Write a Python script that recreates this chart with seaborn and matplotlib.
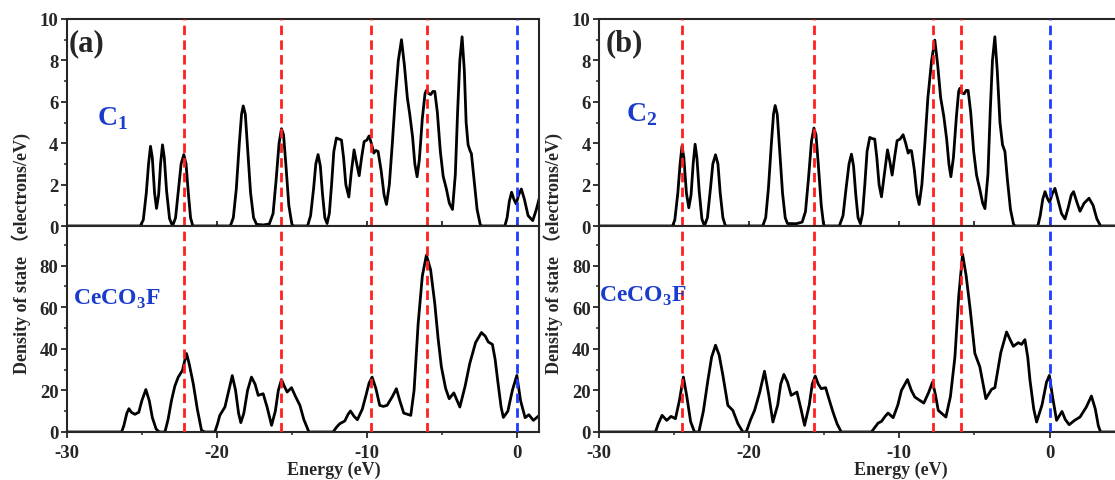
import matplotlib
matplotlib.use('Agg')
import matplotlib.pyplot as plt
import seaborn as sns
from matplotlib.ticker import MultipleLocator

# DOS curves: (energy eV, DOS)
c1_dos = [(-30, 0), (-25.1, 0), (-24.9, 0.3), (-24.7, 1.6), (-24.55, 3.0), (-24.42, 3.85), (-24.3, 3.3),
          (-24.15, 1.6), (-24.02, 0.85), (-23.88, 1.5), (-23.75, 3.0), (-23.62, 3.92), (-23.5, 3.3),
          (-23.35, 1.7), (-23.15, 0.35), (-22.95, 0), (-22.75, 0.4), (-22.55, 1.8), (-22.38, 3.0),
          (-22.2, 3.45), (-22.05, 3.0), (-21.9, 1.6), (-21.75, 0.4), (-21.6, 0), (-19.1, 0), (-18.9, 0.4),
          (-18.7, 1.8), (-18.5, 4.0), (-18.35, 5.4), (-18.24, 5.8), (-18.1, 5.4), (-17.95, 3.8),
          (-17.75, 1.6), (-17.55, 0.4), (-17.35, 0.08), (-16.9, 0.05), (-16.5, 0.1), (-16.25, 0.6),
          (-16.05, 2.2), (-15.85, 4.0), (-15.69, 4.7), (-15.55, 4.4), (-15.4, 3.0), (-15.2, 1.0),
          (-15.0, 0.1), (-14.9, 0), (-13.95, 0), (-13.75, 0.5), (-13.55, 1.8), (-13.4, 3.0), (-13.25, 3.45),
          (-13.1, 2.9), (-12.95, 1.5), (-12.8, 0.4), (-12.65, 0.12), (-12.5, 0.6), (-12.35, 2.0),
          (-12.2, 3.6), (-12.03, 4.25), (-11.85, 4.2), (-11.69, 4.15), (-11.55, 3.3), (-11.4, 2.0),
          (-11.2, 1.4), (-11.05, 2.5), (-10.85, 3.68), (-10.7, 3.1), (-10.51, 2.43), (-10.35, 3.3),
          (-10.18, 4.08), (-10.0, 4.15), (-9.85, 4.35), (-9.7, 4.0), (-9.54, 3.52), (-9.4, 3.65),
          (-9.25, 3.6), (-9.05, 2.7), (-8.85, 1.5), (-8.69, 1.04), (-8.5, 2.0), (-8.3, 4.0), (-8.1, 6.2),
          (-7.9, 8.0), (-7.69, 9.0), (-7.5, 7.8), (-7.3, 6.2), (-7.14, 5.4), (-6.95, 4.3), (-6.8, 3.0),
          (-6.65, 2.38), (-6.5, 3.2), (-6.3, 5.2), (-6.12, 6.4), (-6.03, 6.55), (-5.88, 6.4), (-5.74, 6.35),
          (-5.6, 6.5), (-5.47, 6.5), (-5.3, 5.5), (-5.1, 3.6), (-4.91, 2.4), (-4.7, 1.8), (-4.5, 1.1),
          (-4.29, 0.8), (-4.1, 2.5), (-3.95, 5.5), (-3.8, 8.0), (-3.65, 9.14), (-3.5, 7.5), (-3.38, 5.0),
          (-3.25, 3.92), (-3.1, 3.6), (-3.03, 3.5), (-2.85, 2.2), (-2.65, 0.8), (-2.45, 0.1), (-2.36, 0),
          (-0.8, 0), (-0.65, 0.4), (-0.5, 1.2), (-0.35, 1.63), (-0.2, 1.3), (-0.05, 1.07), (0.12, 1.5),
          (0.3, 1.79), (0.5, 1.3), (0.75, 0.5), (1.06, 0.26), (1.3, 0.8), (1.5, 1.35)]

cecof_a = [(-30, 0), (-26.35, 0), (-26.2, 3), (-26.0, 9), (-25.86, 11.2), (-25.7, 9.5), (-25.46, 8.5),
           (-25.2, 9.5), (-25.0, 15), (-24.73, 20.4), (-24.5, 15), (-24.3, 7), (-24.05, 1.5), (-23.84, 0),
           (-23.46, 0), (-23.25, 6), (-23.02, 15.2), (-22.8, 22), (-22.57, 26.4), (-22.29, 29.6),
           (-22.15, 34), (-22.02, 37.7), (-21.85, 33), (-21.57, 23.2), (-21.3, 11), (-21.02, 0.8),
           (-20.8, 0), (-20.13, 0), (-19.95, 4), (-19.8, 8), (-19.46, 12), (-19.2, 20), (-18.97, 27.1),
           (-18.75, 20), (-18.55, 9), (-18.4, 4.5), (-18.2, 9), (-17.95, 20), (-17.69, 26.4), (-17.45, 23),
           (-17.24, 17.6), (-16.91, 18.4), (-16.65, 12), (-16.35, 3.2), (-16.1, 10), (-15.9, 20),
           (-15.69, 25.2), (-15.5, 22), (-15.31, 19.2), (-15.02, 21.3), (-14.75, 17), (-14.46, 12.8),
           (-14.2, 6), (-13.86, 0), (-12.25, 0), (-12.0, 2.5), (-11.8, 4), (-11.47, 5.3), (-11.25, 8.5),
           (-11.09, 10.1), (-10.85, 7.5), (-10.63, 5.9), (-10.3, 11), (-10.03, 18.4), (-9.85, 23.5),
           (-9.65, 26.4), (-9.4, 21), (-9.14, 12.8), (-8.9, 12.3), (-8.65, 12.8), (-8.3, 17), (-8.03, 20.8),
           (-7.8, 15), (-7.54, 9.1), (-7.07, 8.0), (-6.85, 20), (-6.58, 52), (-6.3, 75), (-6.03, 85),
           (-5.75, 78), (-5.47, 61.7), (-5.25, 45), (-5.03, 31.3), (-4.75, 21), (-4.51, 16), (-4.2, 18.8),
           (-3.8, 12), (-3.45, 22), (-3.14, 32.9), (-2.75, 43), (-2.36, 47.8), (-2.1, 46), (-1.91, 43.3),
           (-1.63, 42.1), (-1.45, 35), (-1.25, 23.2), (-1.05, 12), (-0.9, 7), (-0.6, 10), (-0.3, 20),
           (0.0, 27.2), (0.25, 15), (0.55, 6.9), (0.8, 8.3), (1.1, 5.6), (1.5, 8)]

c2_dos = [(-30, 0), (-25.1, 0), (-24.95, 0.3), (-24.75, 1.6), (-24.6, 3.0), (-24.47, 3.87), (-24.35, 3.3),
          (-24.18, 1.6), (-24.02, 0.88), (-23.87, 1.5), (-23.73, 3.0), (-23.6, 3.95), (-23.48, 3.3),
          (-23.33, 1.7), (-23.15, 0.35), (-22.98, 0), (-22.78, 0.4), (-22.58, 1.8), (-22.42, 3.0),
          (-22.24, 3.44), (-22.08, 3.0), (-21.93, 1.6), (-21.75, 0.4), (-21.58, 0), (-19.1, 0), (-18.9, 0.4),
          (-18.72, 1.8), (-18.52, 4.0), (-18.38, 5.4), (-18.27, 5.82), (-18.13, 5.4), (-17.98, 3.8),
          (-17.78, 1.6), (-17.6, 0.4), (-17.45, 0.12), (-16.87, 0.11), (-16.47, 0.19), (-16.25, 0.7),
          (-16.05, 2.3), (-15.85, 4.1), (-15.69, 4.73), (-15.55, 4.4), (-15.4, 3.0), (-15.2, 1.0),
          (-15.05, 0.1), (-14.98, 0), (-14.0, 0), (-13.75, 0.5), (-13.55, 1.8), (-13.35, 3.0),
          (-13.19, 3.47), (-13.05, 2.9), (-12.9, 1.5), (-12.75, 0.4), (-12.59, 0.11), (-12.45, 0.6),
          (-12.3, 2.0), (-12.15, 3.6), (-11.97, 4.28), (-11.8, 4.22), (-11.64, 4.2), (-11.5, 3.3),
          (-11.35, 2.0), (-11.19, 1.41), (-11.0, 2.5), (-10.79, 3.68), (-10.63, 3.1), (-10.48, 2.46),
          (-10.3, 3.4), (-10.15, 4.12), (-9.95, 4.2), (-9.75, 4.41), (-9.58, 4.0), (-9.41, 3.52),
          (-9.3, 3.65), (-9.19, 3.63), (-9.0, 2.7), (-8.83, 1.5), (-8.68, 1.04), (-8.5, 2.0), (-8.3, 4.0),
          (-8.1, 6.2), (-7.85, 8.0), (-7.64, 8.98), (-7.45, 7.8), (-7.25, 6.2), (-7.04, 5.3), (-6.85, 4.2),
          (-6.7, 3.0), (-6.57, 2.38), (-6.4, 3.3), (-6.2, 5.3), (-6.05, 6.5), (-5.97, 6.65), (-5.82, 6.42),
          (-5.68, 6.39), (-5.55, 6.55), (-5.42, 6.55), (-5.25, 5.5), (-5.05, 3.6), (-4.86, 2.46),
          (-4.65, 1.8), (-4.45, 1.1), (-4.3, 0.84), (-4.1, 2.5), (-3.95, 5.5), (-3.8, 8.0), (-3.64, 9.14),
          (-3.48, 7.5), (-3.3, 5.0), (-3.13, 3.92), (-2.97, 3.6), (-2.8, 2.2), (-2.6, 0.8), (-2.4, 0.1),
          (-2.3, 0), (-0.78, 0), (-0.62, 0.5), (-0.45, 1.3), (-0.3, 1.66), (-0.15, 1.35), (0.0, 1.14),
          (0.18, 1.55), (0.36, 1.82), (0.55, 1.3), (0.8, 0.6), (1.03, 0.34), (1.25, 0.9), (1.45, 1.5),
          (1.6, 1.66), (1.8, 1.2), (2.03, 0.71), (2.3, 1.1), (2.63, 1.34), (2.9, 1.0), (3.15, 0.35),
          (3.4, 0), (4.4, 0)]

cecof_b = [(-30, 0), (-26.24, 0), (-26.05, 4), (-25.8, 8.0), (-25.49, 5.6), (-25.2, 7.5), (-24.91, 6.4),
           (-24.65, 15), (-24.38, 26.4), (-24.15, 17), (-23.9, 5), (-23.64, 0), (-23.35, 0), (-23.05, 10),
           (-22.75, 24.8), (-22.5, 36), (-22.24, 41.7), (-22.0, 37), (-21.75, 27.2), (-21.42, 12.8),
           (-21.09, 10.4), (-20.75, 4), (-20.42, 0), (-20.2, 0), (-19.9, 6), (-19.64, 10.4), (-19.3, 19),
           (-18.98, 29.2), (-18.7, 18), (-18.42, 4.8), (-18.1, 13), (-17.9, 23), (-17.69, 27.7),
           (-17.45, 24), (-17.2, 17.6), (-16.82, 19.2), (-16.55, 11), (-16.31, 3.2), (-16.0, 13),
           (-15.8, 23), (-15.6, 26.9), (-15.4, 23), (-15.2, 20.8), (-14.91, 21.3), (-14.65, 15),
           (-14.42, 9.6), (-14.15, 4), (-13.87, 0), (-11.86, 0), (-11.6, 2.5), (-11.41, 4.3), (-11.19, 5.1),
           (-10.95, 7.5), (-10.75, 9.1), (-10.41, 6.9), (-10.1, 13), (-9.86, 20), (-9.46, 25.2), (-9.2, 20),
           (-8.97, 16.8), (-8.37, 13.9), (-8.05, 19), (-7.79, 24), (-7.6, 18), (-7.41, 10.4), (-6.9, 7.2),
           (-6.6, 17), (-6.3, 36), (-6.05, 65), (-5.79, 85.4), (-5.55, 75), (-5.3, 60), (-4.97, 37.7),
           (-4.64, 31.3), (-4.24, 16), (-3.86, 20.5), (-3.64, 21.3), (-3.25, 38), (-2.86, 48.1),
           (-2.6, 44), (-2.41, 41.2), (-2.08, 42.9), (-1.86, 42.1), (-1.64, 44.4), (-1.45, 36),
           (-1.3, 24.8), (-1.05, 11), (-0.86, 4.8), (-0.5, 13), (-0.2, 24), (-0.01, 27.2), (0.2, 17),
           (0.47, 5.6), (0.83, 9.9), (1.05, 6), (1.31, 3.5), (1.65, 5.5), (2.03, 7.2), (2.45, 12),
           (2.79, 17.3), (3.05, 11), (3.25, 3), (3.4, 0), (4.4, 0)]

red_lines_a = [-22.2, -15.7, -9.7, -6.0]
red_lines_b = [-24.5, -15.7, -7.75, -5.9]
fermi = 0.0

sns.set_style('ticks')
plt.rcParams['font.family'] = ['Liberation Serif', 'Noto Sans CJK SC']
plt.rcParams['font.weight'] = 'bold'
plt.rcParams['mathtext.fontset'] = 'custom'
plt.rcParams['mathtext.bf'] = 'Liberation Serif:bold'
plt.rcParams['mathtext.rm'] = 'Liberation Serif:bold'
plt.rcParams['axes.unicode_minus'] = False

W, H = 1115, 481
fig = plt.figure(figsize=(W / 100, H / 100), dpi=100)


def px(x, y):
    return x / W, 1 - y / H


def make_axes(x0, x1, xmax, cut_right):
    top = fig.add_axes([x0 / W, 1 - 227 / H, (x1 - x0) / W, 207 / H])
    bot = fig.add_axes([x0 / W, 1 - 433 / H, (x1 - x0) / W, 206 / H])
    for ax in (top, bot):
        ax.set_xlim(-30, xmax)
        ax.xaxis.set_major_locator(MultipleLocator(10))
        ax.xaxis.set_minor_locator(MultipleLocator(5))
        for s in ax.spines.values():
            s.set_linewidth(1.5)
        if cut_right:
            ax.spines['right'].set_visible(False)
        ax.tick_params(axis='y', which='major', direction='out', length=4, width=1.3,
                       labelsize=13.5, pad=2)
        ax.tick_params(axis='y', which='minor', direction='out', length=2.5, width=1.1)
        ax.tick_params(axis='y', right=False)
    top.set_ylim(0, 10)
    top.yaxis.set_major_locator(MultipleLocator(2))
    top.yaxis.set_minor_locator(MultipleLocator(1))
    top.tick_params(axis='x', which='both', direction='inout', length=7, width=1.3, labelbottom=False)
    bot.set_ylim(0, 99)
    bot.set_yticks([0, 20, 40, 60, 80])
    bot.yaxis.set_minor_locator(MultipleLocator(10))
    bot.tick_params(axis='x', which='major', direction='out', length=4, width=1.3,
                    labelsize=13.5, pad=5)
    bot.tick_params(axis='x', which='minor', direction='out', length=2.5, width=1.1)
    return top, bot


def draw(ax, pairs, lines):
    e = [p[0] for p in pairs]
    d = [p[1] for p in pairs]
    sns.lineplot(x=e, y=d, ax=ax, color='black', linewidth=2.0, estimator=None, sort=False,
                 solid_joinstyle='round', solid_capstyle='round')
    for xv in lines:
        ax.axvline(xv, color='#ff1f1f', linestyle=(0, (3.4, 1.9)), linewidth=2.0, zorder=4)
    ax.axvline(fermi, color='#1f3cff', linestyle=(0, (3.4, 1.9)), linewidth=2.0, zorder=4)
    ax.set_xlabel('')
    ax.set_ylabel('')


blue_txt = '#1a3ccc'
ylab = 'Density of state （electrons/eV)'

# panel (a)
ta, ba = make_axes(66.8, 538.6, 1.45, False)
draw(ta, c1_dos, red_lines_a)
draw(ba, cecof_a, red_lines_a)
fig.text(*px(69, 51), '(a)', fontsize=22, fontweight='bold', va='baseline')
fig.text(*px(97, 125), 'C$_\\mathbf{1}$', fontsize=20, fontweight='bold', color=blue_txt, va='baseline')
fig.text(*px(73, 305), 'CeCO$_\\mathbf{3}$F', fontsize=17, fontweight='bold', color=blue_txt, va='baseline')
fig.text(*px(21, 254), ylab, rotation=90, fontsize=13, fontweight='bold', ha='center', va='center')
fig.text(*px(334, 470), 'Energy (eV)', fontsize=13, fontweight='bold', ha='center', va='center')

# panel (b)
tb, bb = make_axes(599, 1115, (1115 - 1049.6) / 15, True)
draw(tb, c2_dos, red_lines_b)
draw(bb, cecof_b, red_lines_b)
fig.text(*px(606, 51), '(b)', fontsize=22, fontweight='bold', va='baseline')
fig.text(*px(626, 121), 'C$_\\mathbf{2}$', fontsize=20, fontweight='bold', color=blue_txt, va='baseline')
fig.text(*px(599, 302), 'CeCO$_\\mathbf{3}$F', fontsize=17, fontweight='bold', color=blue_txt, va='baseline')
fig.text(*px(553, 254), ylab, rotation=90, fontsize=13, fontweight='bold', ha='center', va='center')
fig.text(*px(901, 470), 'Energy (eV)', fontsize=13, fontweight='bold', ha='center', va='center')

fig.savefig('out.png', dpi=100)
